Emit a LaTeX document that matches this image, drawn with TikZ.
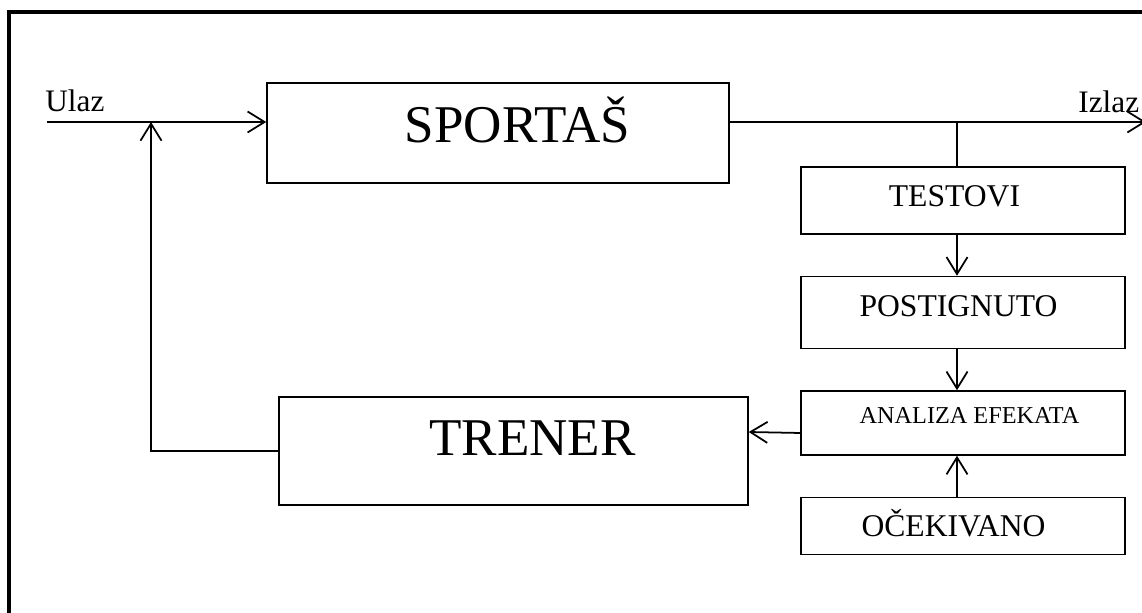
\documentclass[tikz,border=0pt]{standalone}
\usepackage{fontspec}
\setmainfont{Liberation Serif}
\usetikzlibrary{arrows.meta,positioning}
\tikzset
{
    block/.style = {rectangle, draw=black, line width=0.85pt, inner sep=0pt, text depth=0pt},
    bigblock/.style = {block, font=\fontsize{30.2}{33}\selectfont},
    stepblock/.style = {block, minimum width=6.48cm, font=\fontsize{18}{21}\selectfont},
    wire/.style = {line width=1pt},
    arr/.style = {wire, -{Straight Barb[length=0.34cm,width=0.42cm]}},
    lbl/.style = {inner sep=0pt, anchor=base west, font=\fontsize{17.8}{20}\selectfont}
}
\begin{document}
\begin{tikzpicture}[node distance=0.82cm]
	\useasboundingbox (0,0) rectangle (22.84,12.24);
	% frame
	\draw[line width=0.08cm] (0.18,-1) -- (0.18,12) -- (24,12);

	\node[bigblock, minimum width=9.24cm, minimum height=2cm, text height=0.4cm] (sportas) at (9.96,9.58) {\hspace*{0.78cm}SPORTAŠ};
	\node[bigblock, minimum width=9.38cm, minimum height=2.16cm, text height=0.2cm] (trener) at (10.27,3.22) {\hspace*{0.76cm}TRENER};

	\node[stepblock, minimum height=1.34cm, text height=0.26cm] (testovi) at (19.26,8.23) {\hspace*{-0.34cm}TESTOVI};
	\node[stepblock, minimum height=1.44cm, text height=0.16cm, below=of testovi] (postignuto) {\hspace*{-0.18cm}POSTIGNUTO};
	\node[stepblock, minimum height=1.28cm, text height=0.04cm, below=of postignuto, font=\fontsize{13.8}{16}\selectfont] (analiza) {\hspace*{0.26cm}ANALIZA EFEKATA};
	\node[stepblock, minimum height=1.14cm, text height=0.42cm, below=of analiza] (ocekivano) {\hspace*{-0.38cm}OČEKIVANO};

	\node[lbl] (ulazlbl) at (0.9,10) {Ulaz};
	\node[lbl] (izlazlbl) at (21.56,9.98) {Izlaz};

	\coordinate (ulaz) at (0.94,9.8);
	\coordinate (fb) at (3.02,9.8);
	\coordinate (izlaz) at (22.92,9.8);
	\coordinate (col) at (19.14,9.8);

	\draw[arr] (ulaz) -- (ulaz -| sportas.west);
	\draw[arr] (sportas.east |- izlaz) -- (izlaz);
	\draw[wire] (col) -- (testovi.north -| col);
	\draw[arr] (testovi.south -| col) -- (postignuto.north -| col);
	\draw[arr] (postignuto.south -| col) -- (analiza.north -| col);
	\draw[arr] (ocekivano.north -| col) -- (analiza.south -| col);
	\draw[arr] ([yshift=-0.2cm]analiza.west) -- ([yshift=0.38cm]trener.east);
	\draw[arr] (trener.west) -| (fb);
\end{tikzpicture}
\end{document}
